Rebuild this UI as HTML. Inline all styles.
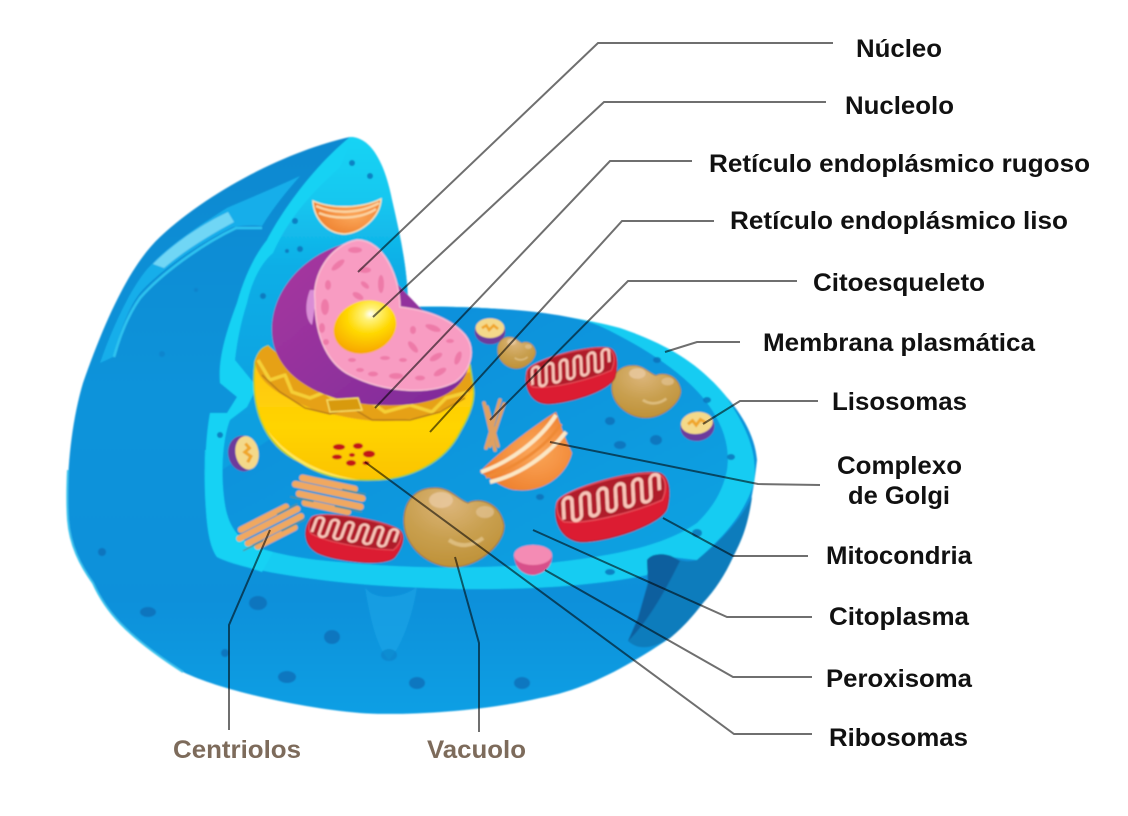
<!DOCTYPE html>
<html><head><meta charset="utf-8"><style>
html,body{margin:0;padding:0;background:#fff;width:1128px;height:816px;overflow:hidden}
svg{display:block}
text{font-family:"Liberation Sans",sans-serif;font-weight:bold;font-size:25px;fill:#111}
.b{fill:#7d6b5b}
.l{fill:none;stroke:#6f6f6f;stroke-width:2;mix-blend-mode:multiply}
.sp{fill:#ee7aa8}
.dot{fill:#0a6fb8;opacity:.8}
</style></head><body>
<svg width="1128" height="816" viewBox="0 0 1128 816" xmlns="http://www.w3.org/2000/svg">
<defs>
<filter id="soft" x="-5%" y="-5%" width="110%" height="110%"><feGaussianBlur stdDeviation="0.7"/></filter>
<linearGradient id="body" gradientUnits="userSpaceOnUse" x1="0" y1="137" x2="0" y2="716"><stop offset="0" stop-color="#0c88d0"/><stop offset=".45" stop-color="#0b93da"/><stop offset=".8" stop-color="#0a90da"/><stop offset="1" stop-color="#0f9fe4"/></linearGradient>
<linearGradient id="wall" gradientUnits="userSpaceOnUse" x1="0" y1="140" x2="0" y2="420"><stop offset="0" stop-color="#13d3f4"/><stop offset=".2" stop-color="#13c8f0"/><stop offset=".45" stop-color="#10aee6"/><stop offset="1" stop-color="#0d9fe0"/></linearGradient>
<linearGradient id="floor" x1="0" y1="0" x2="1" y2="1"><stop offset="0" stop-color="#0b8cda"/><stop offset=".6" stop-color="#0c98de"/><stop offset="1" stop-color="#0fa3e2"/></linearGradient>
<linearGradient id="bowl" x1="0" y1="0" x2="0" y2="1"><stop offset="0" stop-color="#ffc21a"/><stop offset=".6" stop-color="#ffd400"/><stop offset="1" stop-color="#fbc300"/></linearGradient>
<linearGradient id="purple" x1="0" y1="0" x2="1" y2="1"><stop offset="0" stop-color="#a9389f"/><stop offset="1" stop-color="#7d2a9a"/></linearGradient>
<radialGradient id="nucleolus" cx=".65" cy=".3" r=".75"><stop offset="0" stop-color="#fff"/><stop offset=".15" stop-color="#fff27a"/><stop offset=".5" stop-color="#ffd800"/><stop offset="1" stop-color="#f7a400"/></radialGradient>
<radialGradient id="vac" cx=".45" cy=".2" r=".85"><stop offset="0" stop-color="#dcb57a"/><stop offset=".5" stop-color="#c9a050"/><stop offset="1" stop-color="#bd8f34"/></radialGradient>
<radialGradient id="gol" cx=".6" cy=".5" r=".6"><stop offset="0" stop-color="#fba75a"/><stop offset="1" stop-color="#ee7f2c"/></radialGradient>
<g id="mito">
  <path d="M-50,-8 C-45,-22 25,-38 45,-32 C54,-28 54,-12 50,2 C44,18 -8,32 -30,30 C-48,27 -54,8 -50,-8Z" fill="#dc1c30" stroke="#a8142a" stroke-width="1"/>
  <path d="M-49,-10 C-42,-22 25,-37 44,-31 C52,-27 50,-14 46,-6 C26,2 -20,14 -44,10 C-50,6 -51,-4 -49,-10Z" fill="#b01a2c" stroke="#e8505c" stroke-width="1.2"/>
  <g transform="translate(0,-10) skewY(-12.5)">
  <path d="M-44,8 L-44,-8 A4,4 0 0 1 -36,-8 L-36,8 A4,4 0 0 0 -28,8 L-28,-8 A4,4 0 0 1 -20,-8 L-20,8 A4,4 0 0 0 -12,8 L-12,-8 A4,4 0 0 1 -4,-8 L-4,8 A4,4 0 0 0 4,8 L4,-8 A4,4 0 0 1 12,-8 L12,8 A4,4 0 0 0 20,8 L20,-8 A4,4 0 0 1 28,-8 L28,8 A4,4 0 0 0 36,8 L36,-8 A4,4 0 0 1 44,-8 L44,4" fill="none" stroke="#f8c4b8" stroke-width="3.2"/>
  </g>
</g>
<g id="heart">
  <path d="M-51,-5 C-52,-28 -38,-40 -21,-40 C-5,-41 3,-28 13,-25 C22,-30 44,-28 49,-3 C50,15 25,38 0,39 C-25,40 -50,20 -51,-5Z" fill="url(#vac)" stroke="#9a7428" stroke-width="1"/>
  <ellipse cx="-14" cy="-28" rx="12" ry="8" fill="#e8c9a0" opacity=".8"/>
  <ellipse cx="30" cy="-16" rx="9" ry="6" fill="#e2c394" opacity=".7"/>
  <path d="M-6,12 C5,20 18,18 28,10" fill="none" stroke="#e2c48a" stroke-width="4" opacity=".8"/>
</g>
<g id="lyso">
  <ellipse cx="0" cy="3" rx="17" ry="14" fill="#6d3a9c"/>
  <ellipse cx="0" cy="-1" rx="16" ry="11" fill="#f4d98a"/>
  <path d="M-9,-1 L-4,-4 L-1,1 L4,-4 L9,0" fill="none" stroke="#f0a62a" stroke-width="3"/>
</g>
<g id="cent" fill="none" stroke-linecap="round">
  <g stroke="#f0a860" stroke-width="7">
    <path d="M-30,-12 L26,-12"/><path d="M-36,-4 L36,-4"/><path d="M-30,5 L36,5"/><path d="M-22,13 L24,13"/>
  </g>
  <g stroke="#4f8d94" stroke-width="1.5"><path d="M14,-9 L38,-9"/><path d="M-38,10 L-14,10"/><path d="M10,10 L38,10"/></g>
</g>
</defs>
<rect width="1128" height="816" fill="#fff"/>

<g filter="url(#soft)">
<!-- main silhouette -->
<path d="M350,137 C290,150 210,190 160,237 C130,265 105,320 83,383 C72,420 66,470 68,520 C70,545 80,565 93,583 C105,610 125,635 183,672 C220,690 300,708 360,713 C400,716 480,712 540,698 C585,690 625,668 670,638 C700,610 725,575 733,557 C745,530 752,505 757,460 C755,435 740,410 720,390 C690,360 660,345 620,330 C560,312 480,305 408,307 C408,270 400,235 392,200 C385,165 372,137 350,137Z" fill="url(#body)"/>
<path d="M68,470 C67,490 67,505 68,520 C70,545 80,565 93,583 C105,610 125,635 183,672" fill="none" stroke="#3cc4ee" stroke-width="2"/>
<!-- dome light bands -->
<path d="M300,176 C270,190 245,200 227,208 C200,225 170,245 153,263 C135,280 115,320 100,363 L113,357 C120,330 130,305 140,293 C155,275 195,245 233,227 C245,225 255,225 262,226 C275,205 288,190 300,176Z" fill="#16aeea"/>
<path d="M228,212 C200,225 172,245 153,264 L164,268 C185,250 210,235 234,222Z" fill="#6fd6f5"/>
<path d="M262,228 L236,228 C200,245 160,275 140,298 C128,315 120,335 114,357" fill="none" stroke="#2fc4f0" stroke-width="2.5"/>

<!-- rim of floor -->
<path d="M205,450 C203,500 208,545 217,557 C240,570 330,585 427,588 C520,592 600,585 647,575 L653,555 L697,560 C720,540 745,515 754,482 C758,450 745,425 725,395 C700,365 670,345 620,328 C560,312 480,305 408,307 L300,440Z" fill="#14ccf2"/>
<!-- notch -->
<path d="M647,560 C652,553 665,553 673,557 C682,562 690,562 697,560 C715,545 738,525 752,497 C748,525 742,540 733,557 C725,575 715,590 703,603 C690,620 680,630 670,638 C655,647 640,652 628,641 L638,618 L648,583Z" fill="#0b7cbc"/>
<path d="M647,560 C652,553 665,553 673,557 L680,561 C668,585 650,620 628,641 L638,618 L648,583Z" fill="#095f9e"/>
<!-- floor -->
<path d="M408,307 C480,306 560,310 600,326 C640,345 690,375 712,410 C725,430 730,450 727,470 C722,495 710,510 697,523 C665,545 620,555 550,563 C480,570 400,568 340,562 C310,560 290,556 273,552 C245,545 228,535 222,510 C218,480 215,440 225,415 L262,410Z" fill="url(#floor)"/>
<!-- cut dome wall -->
<path d="M350,137 C372,137 385,165 392,200 C400,235 408,270 408,307 L408,350 L300,420 L222,470 L205,490 C205,450 207,430 210,413 L227,413 L237,397 L220,383 C218,360 225,335 237,303 C245,275 255,255 267,240 C280,215 310,170 350,137Z" fill="url(#wall)"/>
<path d="M350,137 C310,170 280,215 267,240 C255,255 245,275 237,303 C225,335 218,360 220,383 L237,397 L227,413 L210,413 C207,430 205,450 205,490 C206,520 208,545 217,557 L262,572 L273,552 C245,545 232,535 226,510 C220,480 222,440 230,420 L247,407 L257,387 L235,360 C237,343 240,325 247,303 C252,280 262,262 273,253 C290,215 315,190 340,167 C345,155 350,145 350,137Z" fill="#14d2f4"/>
<!-- groove -->
<path d="M365,587 C372,600 400,600 417,587 C412,620 400,648 389,660 C378,650 370,620 365,587Z" fill="#1aa5e6" opacity=".65"/>
<!-- spots -->
<g class="dot">
<ellipse cx="258" cy="603" rx="9" ry="7"/><ellipse cx="148" cy="612" rx="8" ry="5"/><ellipse cx="332" cy="637" rx="8" ry="7"/><ellipse cx="287" cy="677" rx="9" ry="6"/><ellipse cx="417" cy="683" rx="8" ry="6"/><ellipse cx="389" cy="655" rx="8" ry="6" opacity=".5"/><ellipse cx="102" cy="552" rx="4" ry="4"/><ellipse cx="225" cy="653" rx="4" ry="4"/><ellipse cx="522" cy="683" rx="8" ry="6"/>
<ellipse cx="620" cy="445" rx="6" ry="4"/><ellipse cx="656" cy="440" rx="6" ry="5"/><ellipse cx="610" cy="421" rx="5" ry="4"/><ellipse cx="731" cy="457" rx="4" ry="3"/><ellipse cx="657" cy="360" rx="4" ry="3"/><ellipse cx="707" cy="400" rx="4" ry="3"/><ellipse cx="540" cy="497" rx="4" ry="3"/><ellipse cx="697" cy="533" rx="5" ry="4"/><ellipse cx="610" cy="572" rx="5" ry="3"/>
<circle cx="352" cy="163" r="3"/><circle cx="370" cy="176" r="3"/><circle cx="295" cy="221" r="3"/><circle cx="300" cy="249" r="3"/><circle cx="287" cy="251" r="2"/><circle cx="263" cy="296" r="3"/><circle cx="220" cy="435" r="3"/><circle cx="162" cy="354" r="3" opacity=".4"/><circle cx="196" cy="290" r="2" opacity=".4"/>
</g>

<!-- top golgi -->
<g transform="translate(346,213)">
<path d="M-33,-12 C-15,-4 15,-4 35,-14 C34,5 15,20 -2,21 C-20,20 -32,5 -33,-12Z" fill="url(#gol)" stroke="#f4e3b5" stroke-width="1.5"/>
<path d="M-30,-7 C-10,2 15,0 33,-10 M-27,0 C-10,7 15,6 30,-4" fill="none" stroke="#fbd3a0" stroke-width="2.5"/>
</g>

<!-- nucleus bowl -->
<path d="M255,362 C258,352 262,348 268,346 L300,380 L400,395 L470,365 L473,385 C476,400 470,415 460,432 C445,462 410,480 372,480 C345,481 320,476 300,462 C262,445 250,405 255,362Z" fill="url(#bowl)" stroke="#9fcf2a" stroke-width="1.5"/>
<path d="M267,430 C285,460 320,478 360,480 C325,475 290,460 267,430Z" fill="#ffe95a"/>
<!-- ER -->
<path d="M255,362 C258,352 262,348 268,346 L300,370 L400,395 L470,372 L473,388 C460,405 430,418 400,420 C370,424 340,416 315,410 C285,398 258,385 255,362Z" fill="#e6a118"/>
<g fill="none" stroke-linejoin="round">
<path d="M258,360 L270,380 L285,375 L292,392 L310,398 L325,392 L340,405 L365,398 L385,412 L410,405 L432,412 L446,398 L468,392" stroke="#f5cf36" stroke-width="3.5"/>
<path d="M262,375 L280,392 L305,408 L330,414 L352,408 L372,420 L410,420 L440,412 L465,398" stroke="#b87a12" stroke-width="1.5"/>
</g>
<!-- purple -->
<path d="M357,242 C320,245 272,280 272,330 C272,375 320,403 380,405 C430,407 465,395 470,360 Z" fill="url(#purple)"/>
<path d="M327,400 L358,398 L362,410 L330,412Z" fill="#d89a10" stroke="#f7dc5e" stroke-width="1.5"/>
<path d="M310,290 C304,305 306,320 312,325 C314,315 315,300 318,290Z" fill="#d98dd6"/>
<!-- pink -->
<path d="M357,240 C330,245 312,275 315,300 C315,340 330,365 350,375 C385,393 430,395 455,382 C470,372 477,350 465,335 C450,318 425,310 400,307 C400,280 385,240 357,240Z" fill="#f89cc2" stroke="#f9bdd4" stroke-width="1.5"/>
<g class="sp">
<ellipse cx="355" cy="250" rx="7" ry="3"/><ellipse cx="338" cy="265" rx="8" ry="3" transform="rotate(-40 338 265)"/><ellipse cx="365" cy="270" rx="6" ry="3"/><ellipse cx="381" cy="284" rx="3" ry="9"/><ellipse cx="365" cy="285" rx="5" ry="2.5" transform="rotate(40 365 285)"/><ellipse cx="328" cy="285" rx="3" ry="5"/><ellipse cx="358" cy="296" rx="6" ry="3" transform="rotate(30 358 296)"/><ellipse cx="325" cy="307" rx="4" ry="8"/><ellipse cx="322" cy="328" rx="3" ry="5"/><ellipse cx="326" cy="342" rx="3" ry="3"/>
<ellipse cx="433" cy="328" rx="8" ry="3" transform="rotate(20 433 328)"/><ellipse cx="413" cy="330" rx="3" ry="4"/><ellipse cx="413" cy="347" rx="7" ry="3" transform="rotate(50 413 347)"/><ellipse cx="436" cy="357" rx="7" ry="3" transform="rotate(-30 436 357)"/><ellipse cx="458" cy="358" rx="3" ry="7" transform="rotate(20 458 358)"/><ellipse cx="440" cy="372" rx="7" ry="3" transform="rotate(-30 440 372)"/><ellipse cx="396" cy="376" rx="7" ry="3"/><ellipse cx="420" cy="378" rx="5" ry="2.5"/><ellipse cx="373" cy="374" rx="5" ry="2.5"/><ellipse cx="385" cy="358" rx="5" ry="2"/><ellipse cx="352" cy="360" rx="4" ry="2"/><ellipse cx="360" cy="370" rx="4" ry="2"/><ellipse cx="403" cy="360" rx="4" ry="2"/><ellipse cx="450" cy="341" rx="4" ry="2"/>
</g>
<!-- nucleolus -->
<ellipse cx="365" cy="327" rx="32" ry="26" transform="rotate(-20 365 327)" fill="url(#nucleolus)"/>
<!-- ribosome dots -->
<g fill="#c41616">
<ellipse cx="339" cy="447" rx="6" ry="3"/><ellipse cx="358" cy="446" rx="5" ry="3"/><ellipse cx="369" cy="454" rx="6" ry="3.5"/><ellipse cx="337" cy="457" rx="5" ry="2.5"/><ellipse cx="351" cy="463" rx="5" ry="3"/><ellipse cx="352" cy="455" rx="3" ry="2"/><ellipse cx="366" cy="463" rx="3.5" ry="2"/>
</g>

<!-- lysosomes -->
<use href="#lyso" transform="translate(490,329) scale(.9)"/>
<use href="#lyso" transform="translate(697,424) rotate(-8)"/>
<use href="#lyso" transform="translate(246,453) rotate(80) scale(1.05)"/>

<!-- vacuoles -->
<use href="#heart" transform="translate(455,528)"/>
<use href="#heart" transform="translate(647,392) scale(.69,.66)"/>
<use href="#heart" transform="translate(517,353) scale(.38,.4)"/>

<!-- mitochondria -->
<use href="#mito" transform="translate(571,377) rotate(-2) scale(.88,.86)"/>
<use href="#mito" transform="translate(612,509) rotate(-3) scale(1.1,1.04)"/>
<use href="#mito" transform="translate(352,540) rotate(20) scale(.92,.8)"/>

<!-- centrioles -->
<use href="#cent" transform="translate(328,495) rotate(12) scale(.95)"/>
<use href="#cent" transform="translate(270,527) rotate(-27) scale(.9)"/>
<g fill="none" stroke="#e0a060" stroke-width="3.5" stroke-linecap="round">
<path d="M484,403 L495,450"/><path d="M487,407 L498,446"/><path d="M500,400 L486,448"/><path d="M504,404 L490,446"/>
</g>

<!-- golgi -->
<path d="M556,412 L566,440 L572,453 C566,478 540,493 516,490 C505,490 490,478 480,472 C495,455 535,425 556,412Z" fill="url(#gol)"/>
<path d="M481,472 C510,462 540,440 556,415 M490,482 C520,475 548,455 566,432" fill="none" stroke="#fbe7c4" stroke-width="4"/>
<path d="M486,477 C515,468 545,448 561,424" fill="none" stroke="#ef8a35" stroke-width="3"/>

<!-- peroxisome -->
<path d="M514,556 C516,570 524,575 534,575 C545,573 552,566 552,556Z" fill="#d84f8a"/>
<ellipse cx="533" cy="555" rx="19" ry="10" fill="#f48bb4"/>
</g>

<!-- connectors -->
<polyline class="l" points="833,43 598,43 358,272"/>
<polyline class="l" points="826,102 604,102 373,317"/>
<polyline class="l" points="692,161 610,161 375,408"/>
<polyline class="l" points="714,221 622,221 430,432"/>
<polyline class="l" points="797,281 628,281 490,420"/>
<polyline class="l" points="740,342 697,342 665,352"/>
<polyline class="l" points="818,401 740,401 703,424"/>
<polyline class="l" points="820,485 758,484 550,442"/>
<polyline class="l" points="808,556 733,556 663,518"/>
<polyline class="l" points="812,617 727,617 533,530"/>
<polyline class="l" points="812,677 733,677 545,570"/>
<polyline class="l" points="812,734 734,734 365,462"/>
<polyline class="l" points="229,730 229,625 270,530"/>
<polyline class="l" points="479,732 479,643 455,557"/>

<!-- labels -->
<text x="856" y="57" textLength="86" lengthAdjust="spacingAndGlyphs">Núcleo</text>
<text x="845" y="114" textLength="109" lengthAdjust="spacingAndGlyphs">Nucleolo</text>
<text x="709" y="172" textLength="381" lengthAdjust="spacingAndGlyphs">Retículo endoplásmico rugoso</text>
<text x="730" y="229" textLength="338" lengthAdjust="spacingAndGlyphs">Retículo endoplásmico liso</text>
<text x="813" y="291" textLength="172" lengthAdjust="spacingAndGlyphs">Citoesqueleto</text>
<text x="763" y="351" textLength="272" lengthAdjust="spacingAndGlyphs">Membrana plasmática</text>
<text x="832" y="410" textLength="135" lengthAdjust="spacingAndGlyphs">Lisosomas</text>
<text x="837" y="474" textLength="125" lengthAdjust="spacingAndGlyphs">Complexo</text>
<text x="848" y="504" textLength="102" lengthAdjust="spacingAndGlyphs">de Golgi</text>
<text x="826" y="564" textLength="146" lengthAdjust="spacingAndGlyphs">Mitocondria</text>
<text x="829" y="625" textLength="140" lengthAdjust="spacingAndGlyphs">Citoplasma</text>
<text x="826" y="687" textLength="146" lengthAdjust="spacingAndGlyphs">Peroxisoma</text>
<text x="829" y="746" textLength="139" lengthAdjust="spacingAndGlyphs">Ribosomas</text>
<text class="b" x="173" y="758" textLength="128" lengthAdjust="spacingAndGlyphs">Centriolos</text>
<text class="b" x="427" y="758" textLength="99" lengthAdjust="spacingAndGlyphs">Vacuolo</text>
</svg>
</body></html>
